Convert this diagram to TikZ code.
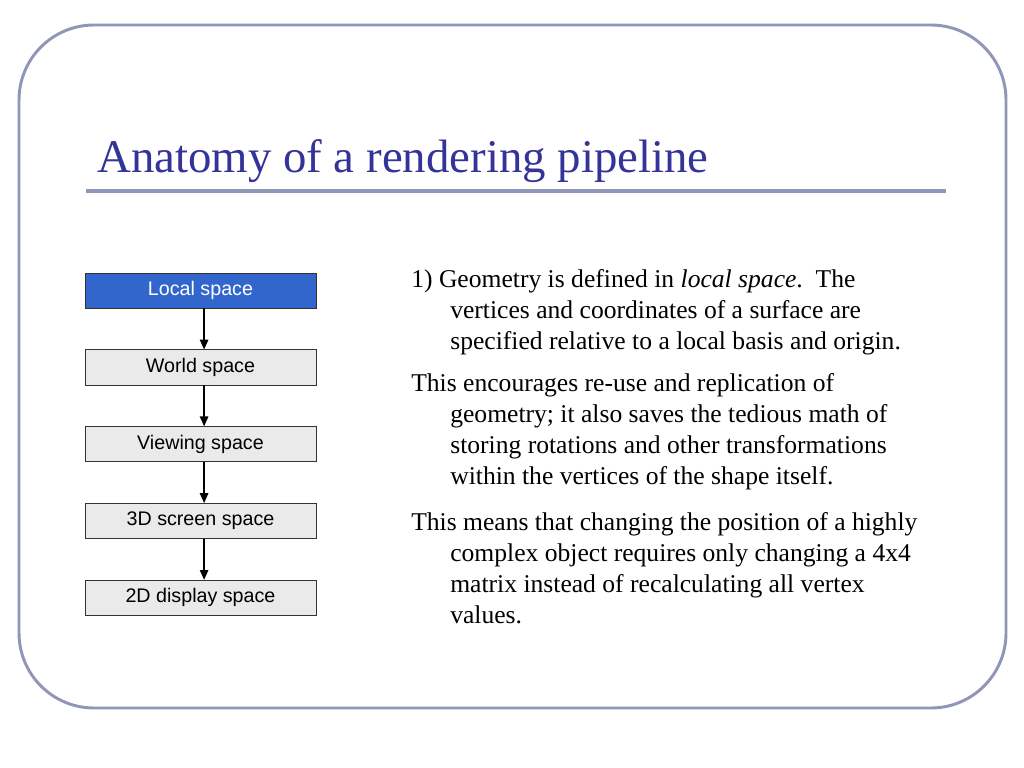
\documentclass[tikz,border=0pt]{standalone}
\usepackage{fontspec}
\setmainfont{Liberation Serif}
\setsansfont{Liberation Sans}
\usetikzlibrary{positioning,arrows.meta}

\definecolor{titleblue}{HTML}{333399}
\definecolor{framegray}{HTML}{9096B8}
\definecolor{localblue}{HTML}{3366CC}
\definecolor{boxgray}{HTML}{EAEAEA}

\tikzset{
	stage/.style={draw=black!80, fill=boxgray, minimum width=5.775cm, minimum height=0.875cm,
		inner sep=0pt, font=\sffamily\fontsize{14}{16}\selectfont},
	flow/.style={-{Triangle[length=7pt,width=6pt]}, line width=0.9pt},
	para/.style={anchor=base west, align=left, inner sep=0pt, font=\fontsize{18.2}{22}\selectfont}
}

\begin{document}
\begin{tikzpicture}[x=0.025cm, y=-0.025cm, node distance=1.03cm]
	\useasboundingbox (0,0) rectangle (1024,768);

	% slide frame and title
	\draw[framegray, line width=2.1pt, rounded corners=1.875cm] (19,25) rectangle (1006,708);
	\node[anchor=base west, inner sep=0pt, text=titleblue, font=\fontsize{33.3}{38}\selectfont]
		(title) at (97,173) {Anatomy of a rendering pipeline};
	\draw[framegray, line width=2.8pt] (86,191) -- (946,191);

	% pipeline stages
	\node[stage, fill=localblue, text=white] (local) at (200.5,290.5) {Local space};
	\node[stage, below=of local] (world) {World space};
	\node[stage, below=of world] (view) {Viewing space};
	\node[stage, below=of view] (screen) {3D screen space};
	\node[stage, below=of screen] (display) {2D display space};

	\draw[flow] ([xshift=0.09cm]local.south) -- ([xshift=0.09cm]world.north);
	\draw[flow] ([xshift=0.09cm]world.south) -- ([xshift=0.09cm]view.north);
	\draw[flow] ([xshift=0.09cm]view.south) -- ([xshift=0.09cm]screen.north);
	\draw[flow] ([xshift=0.09cm]screen.south) -- ([xshift=0.09cm]display.north);

	% notes (anchored at the baseline of their last line)
	\node[para] (note1) at (411,349) {1) Geometry is defined in \textit{local space}.\ \ The\\
		\hspace*{0.975cm}vertices and coordinates of a surface are\\
		\hspace*{0.975cm}specified relative to a local basis and origin.};
	\node[para] (note2) at (411,484) {This encourages re-use and replication of\\
		\hspace*{0.975cm}geometry; it also saves the tedious math of\\
		\hspace*{0.975cm}storing rotations and other transformations\\
		\hspace*{0.975cm}within the vertices of the shape itself.};
	\node[para] (note3) at (411,623) {This means that changing the position of a highly\\
		\hspace*{0.975cm}complex object requires only changing a 4x4\\
		\hspace*{0.975cm}matrix instead of recalculating all vertex\\
		\hspace*{0.975cm}values.};
\end{tikzpicture}
\end{document}
